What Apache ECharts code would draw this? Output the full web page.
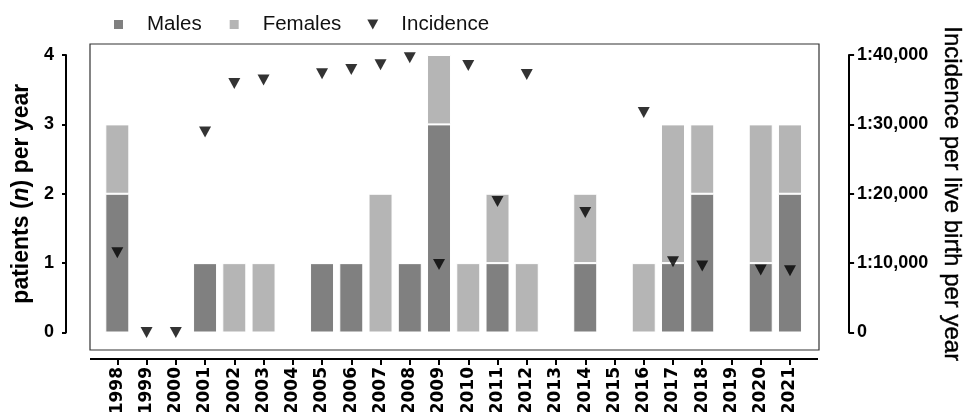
<!DOCTYPE html>
<html><head><meta charset="utf-8">
<script src="https://cdn.jsdelivr.net/npm/echarts@6/dist/echarts.min.js"></script>
<style>html,body{margin:0;padding:0;background:#fff}#c{width:965px;height:412px}</style>
</head><body><div id="c"></div>
<script>
const years = ['1998','1999','2000','2001','2002','2003','2004','2005','2006','2007','2008','2009','2010','2011','2012','2013','2014','2015','2016','2017','2018','2019','2020','2021'];
const males   = [2,0,0,1,0,0,0,1,1,0,1,3,0,1,0,0,1,0,0,1,2,0,1,2];
const females = [1,0,0,0,1,1,0,0,0,2,0,1,1,1,1,0,1,0,1,2,1,0,2,1];
// incidence expressed as N in "1:N"; null = not shown
const incidence = [11500,0,0,28900,35900,36400,null,37300,37900,38600,39600,9800,38500,18900,37200,null,17300,null,31700,10200,9600,null,9000,8900];
const leftTicks = ['0','1','2','3','4'];
const rightTicks = ['0','1:10,000','1:20,000','1:30,000','1:40,000'];

const FONT = '"Liberation Sans", Arial, sans-serif';
const chart = echarts.init(document.getElementById('c'));
chart.setOption({
  animation: false,
  textStyle: {fontFamily: FONT, color: '#000'},
  legend: {
    left: 107, top: 9,
    itemWidth: 11, itemHeight: 11, itemGap: 26,
    textStyle: {fontSize: 20.5, color: '#111', fontFamily: FONT, padding: [0,0,0,18]},
    data: [
      {name: 'Males', icon: 'rect'},
      {name: 'Females', icon: 'rect'},
      {name: 'Incidence', icon: 'path://M0,0L10,0L5,9Z', itemStyle: {color: '#000'}}
    ]
  },
  grid: {left: 102.7, right: 160.4, top: 55, bottom: 79.5, containLabel: false, outerBoundsMode: 'none'},
  xAxis: {
    type: 'category', data: years, offset: 26.5,
    axisLine: {show: true, onZero: false, lineStyle: {color: '#000', width: 2}},
    axisTick: {show: true, alignWithLabel: true, length: 6, lineStyle: {color: '#000', width: 2}},
    axisLabel: {rotate: 90, margin: 8, fontSize: 17, fontWeight: 'bold', color: '#000', fontFamily: '"DejaVu Sans", sans-serif', interval: 0}
  },
  yAxis: [
    {
      type: 'value', min: 0, max: 4, interval: 1, position: 'left', offset: 36.7,
      name: '{b|patients (}{i|n}{b|) per year}', nameLocation: 'middle', nameRotate: 90, nameGap: 32,
      nameTextStyle: {rich: {b: {fontSize: 23, fontWeight: 'bold', fontFamily: FONT, color: '#000'}, i: {fontSize: 23, fontWeight: 'bold', fontStyle: 'italic', fontFamily: FONT, color: '#000'}}},
      splitLine: {show: false},
      axisLine: {show: true, lineStyle: {color: '#000', width: 2}},
      axisTick: {show: true, length: 4, lineStyle: {color: '#000', width: 2}},
      axisLabel: {fontSize: 18, fontWeight: 'bold', color: '#000', fontFamily: FONT, margin: 12,
        formatter: v => leftTicks[Math.round(v)]}
    },
    {
      type: 'value', min: 0, max: 40000, interval: 10000, position: 'right', offset: 44.5,
      name: 'Incidence per live birth per year', nameLocation: 'middle', nameRotate: -90, nameGap: 86,
      nameTextStyle: {fontSize: 24, color: '#000', fontFamily: FONT, textBorderColor: '#000', textBorderWidth: 0.4},
      splitLine: {show: false},
      axisLine: {show: true, lineStyle: {color: '#000', width: 2}},
      axisTick: {show: true, length: 5, lineStyle: {color: '#000', width: 2}},
      axisLabel: {fontSize: 18, fontWeight: 'bold', color: '#000', fontFamily: FONT, margin: 8,
        formatter: v => rightTicks[Math.round(v / 10000)]}
    }
  ],
  graphic: [
    {type: 'rect', shape: {x: 90, y: 44, width: 729, height: 306}, style: {fill: 'none', stroke: '#333', lineWidth: 1.2}, silent: true},
    {type: 'line', shape: {x1: 90, y1: 359, x2: 818, y2: 359}, style: {stroke: '#000', lineWidth: 2}, silent: true}
  ],
  series: [
    {name: 'Males', type: 'bar', stack: 'p', data: males, barWidth: 24,
      itemStyle: {color: '#808080', borderColor: '#fff', borderWidth: 1}},
    {name: 'Females', type: 'bar', stack: 'p', data: females, barWidth: 24,
      itemStyle: {color: '#b5b5b5', borderColor: '#fff', borderWidth: 1}},
    {name: 'Incidence', type: 'scatter', yAxisIndex: 1, data: incidence,
      symbol: 'triangle', symbolRotate: 180, symbolSize: [12, 11], itemStyle: {color: '#000'}, z: 5}
  ]
});
</script></body></html>
